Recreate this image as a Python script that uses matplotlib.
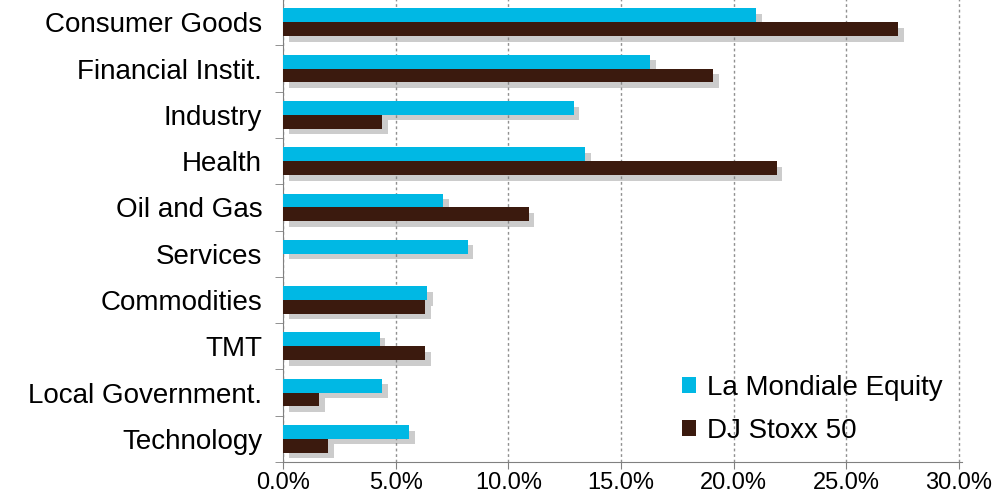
import matplotlib
matplotlib.use("Agg")
import matplotlib.pyplot as plt
import matplotlib.patheffects as pe
from matplotlib.ticker import FixedLocator, FuncFormatter
import numpy as np

plt.rcParams['font.family'] = ['Liberation Sans', 'DejaVu Sans']

categories = ["Consumer Goods", "Financial Instit.", "Industry", "Health",
              "Oil and Gas", "Services", "Commodities", "TMT",
              "Local Government.", "Technology"]
la_mondiale = [21.0, 16.3, 12.9, 13.4, 7.1, 8.2, 6.4, 4.3, 4.4, 5.6]
dj_stoxx = [27.3, 19.1, 4.4, 21.9, 10.9, 0.0, 6.3, 6.3, 1.6, 2.0]
series_names = ["La Mondiale Equity", "DJ Stoxx 50"]
xticks = [0, 5, 10, 15, 20, 25, 30]

c_cyan = "#00B8E4"
c_brown = "#3B1A0E"

fig = plt.figure(figsize=(10.08, 4.95), dpi=100)
ax = fig.add_axes([283/1008, 33/495, (962-283)/1008, 0.935])

y = np.arange(len(categories))
h = 0.30
shadow = [pe.SimplePatchShadow(offset=(4, -4), shadow_rgbFace='#808080', alpha=0.4), pe.Normal()]
b1 = ax.barh(y - h/2, la_mondiale, height=h, color=c_cyan, label=series_names[0], zorder=3)
b2 = ax.barh(y + h/2, dj_stoxx, height=h, color=c_brown, label=series_names[1], zorder=3)
for bars in (b1, b2):
    for p in bars:
        if p.get_width() > 0:
            p.set_path_effects(shadow)

ax.set_xlim(0, 30.13)
ax.set_ylim(len(categories) - 0.5, -0.5)
ax.set_xticks(xticks)
ax.xaxis.set_major_formatter(FuncFormatter(lambda v, p: f"{v:.1f}%"))
ax.set_yticks(y)
ax.set_yticklabels(categories, fontsize=20)
ax.yaxis.set_minor_locator(FixedLocator(np.arange(-0.5, len(categories), 1)))
ax.tick_params(axis='y', which='major', length=0, pad=15)
ax.tick_params(axis='y', which='minor', length=6, color='#808080', direction='out')
ax.tick_params(axis='x', which='major', length=5, color='#808080', labelsize=17, pad=2)

ax.grid(axis='x', linestyle=(0, (2, 2)), color='#909090', linewidth=1.0, zorder=0)
ax.set_axisbelow(True)
for s in ['top', 'right']:
    ax.spines[s].set_visible(False)
ax.spines['left'].set_color('#808080')
ax.spines['bottom'].set_color('#808080')

leg = ax.legend(loc='lower right', bbox_to_anchor=(1.008, -0.015), frameon=False,
                fontsize=20, handlelength=0.5, handleheight=0.5,
                handletextpad=0.4, labelspacing=0.6)
for hnd in leg.legend_handles:
    hnd.set_path_effects([])

fig.savefig("out.png", dpi=100)
